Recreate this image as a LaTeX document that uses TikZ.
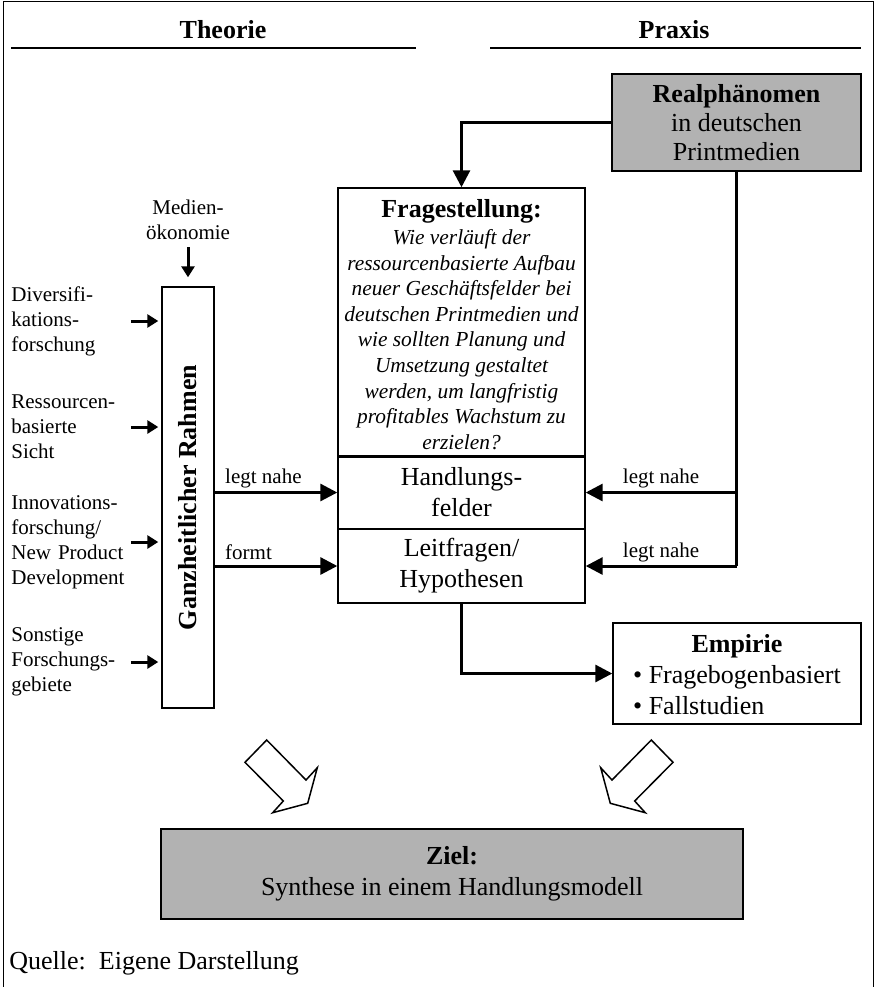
\documentclass[tikz,border=0pt]{standalone}
\usepackage{fontspec}
\setmainfont{Liberation Serif}
\usetikzlibrary{arrows.meta}
\definecolor{boxgray}{RGB}{178,178,178}
\tikzset{
  box/.style={draw, line width=0.7pt, inner sep=0pt, align=center,
    font=\fontsize{13}{15.5}\selectfont},
  graybox/.style={box, fill=boxgray},
  arrow/.style={line width=1.5pt, -{Triangle[length=8.5pt,width=8.5pt]}},
  smallarrow/.style={line width=1.5pt, -{Triangle[length=5.5pt,width=6.5pt]}},
  conn/.style={line width=1.5pt},
  smalltext/.style={inner sep=0pt, font=\fontsize{10.5}{12.5}\selectfont},
  title/.style={inner sep=0pt, font=\fontsize{13}{15.5}\selectfont\bfseries},
  titleline/.style={line width=1pt},
  blockarrow/.style={line width=0.75pt, line join=miter, fill=white}
}
\begin{document}
\begin{tikzpicture}[x=0.5pt,y=-0.5pt]
  \useasboundingbox (0,0) rectangle (875,987);
  \draw[line width=0.5pt] (3,987) -- (3,1.5) -- (873,1.5) -- (873,987);

  \node[title] (theorie) at (223,30) {Theorie};
  \node[title] (praxis) at (674,30) {Praxis};
  \draw[titleline] (11,47.5) -- (416,47.5);
  \draw[titleline] (490,47.5) -- (861,47.5);

  \node[graybox, minimum width=124.5pt, minimum height=48.5pt,
    font=\fontsize{13}{14.5}\selectfont] (real) at (736.5,122.5)
    {\textbf{Realphänomen}\\in deutschen\\Printmedien};

  \node[box, minimum width=123.5pt, minimum height=133.5pt,
    font=\fontsize{10.7}{12.8}\selectfont\itshape] (frage) at (461.5,322.5)
    {\begin{tabular}{@{}c@{}}
      \rule{0pt}{15pt}{\fontsize{13}{15.5}\selectfont\normalfont\bfseries Fragestellung:}\\[0.5pt]
      Wie verläuft der\\
      ressourcenbasierte Aufbau\\
      neuer Geschäftsfelder bei\\
      deutschen Printmedien und\\
      wie sollten Planung und\\
      Umsetzung gestaltet\\
      werden, um langfristig\\
      profitables Wachstum zu\\
      erzielen?
    \end{tabular}};
  \node[box, minimum width=123.5pt, minimum height=36.5pt] (hand) at (461.5,492.5)
    {Handlungs-\\felder};
  \node[box, minimum width=123.5pt, minimum height=37pt] (leit) at (461.5,566)
    {Leitfragen/\\Hypothesen};

  \node[box, minimum width=124pt, minimum height=50.5pt] (emp) at (737,673.5)
    {\begin{tabular}{@{}l@{}}
      \multicolumn{1}{@{}c@{}}{\rule{0pt}{15pt}\textbf{Empirie}}\\
      • Fragebogenbasiert\\
      • Fallstudien
    \end{tabular}};

  \node[box, minimum width=26pt, minimum height=210.5pt] (rahmen) at (188,497.5) {};
  \node[rotate=90, inner sep=0pt, font=\fontsize{13}{15.5}\selectfont\bfseries]
    (rahmentxt) at (rahmen.center) {Ganzheitlicher Rahmen};

  \node[smalltext, align=center] (medien) at (188,220) {Medien-\\ökonomie};
  \draw[smallarrow] ([yshift=-3.5pt]medien.south) -- ([yshift=4.5pt]rahmen.north);

  \foreach \nm/\yy/\txt in {div/321/{Diversifi-\\kations-\\forschung},
      res/427/{Ressourcen-\\basierte\\Sicht},
      inno/542/{Innovations-\\forschung/\\New Product\\Development},
      sonst/662/{Sonstige\\Forschungs-\\gebiete}}{
    \node[smalltext, align=left, text width=59.5pt, anchor=west] (\nm) at (11,\yy) {\txt};
    \draw[smallarrow, shorten >=1.5pt] (\nm.east) -- (\nm.east -| rahmen.west);
  }

  \draw[arrow] (rahmen.east |- hand.west) -- (hand.west)
    node[pos=0, smalltext, anchor=base west, xshift=4.5pt, yshift=4.5pt] (legt1) {legt nahe};
  \draw[arrow] (rahmen.east |- leit.west) -- (leit.west)
    node[pos=0, smalltext, anchor=base west, xshift=4.5pt, yshift=3.5pt] (formt) {formt};

  \draw[arrow] (real.west) -| (frage.north);
  \draw[conn] (real.south) -- (real.south |- leit.east);
  \draw[arrow] (real.south |- hand.east) -- (hand.east)
    node[midway, smalltext, anchor=base, yshift=4.5pt] (legt2) {legt nahe};
  \draw[arrow] (real.south |- leit.east) -- (leit.east)
    node[midway, smalltext, anchor=base, yshift=4.5pt] (legt3) {legt nahe};
  \draw[arrow] (leit.south) |- (emp.west);

  \draw[blockarrow] (266.7,740) -- (245,762.3) -- (283.3,801) -- (272.7,812.7)
    -- (307.7,803.3) -- (317.3,767.7) -- (306,780) -- cycle;
  \draw[blockarrow] (651.3,740) -- (673,762.3) -- (634.7,801) -- (645.3,812.7)
    -- (610.3,803.3) -- (600.7,767.7) -- (612,780) -- cycle;

  \node[graybox, minimum width=291pt, minimum height=45pt] (ziel) at (452,874)
    {\textbf{Ziel:}\\Synthese in einem Handlungsmodell};

  \node[anchor=west, inner sep=0pt, font=\fontsize{13}{15.5}\selectfont] (quelle)
    at (9,963) {Quelle:\ \ Eigene Darstellung};
\end{tikzpicture}
\end{document}
